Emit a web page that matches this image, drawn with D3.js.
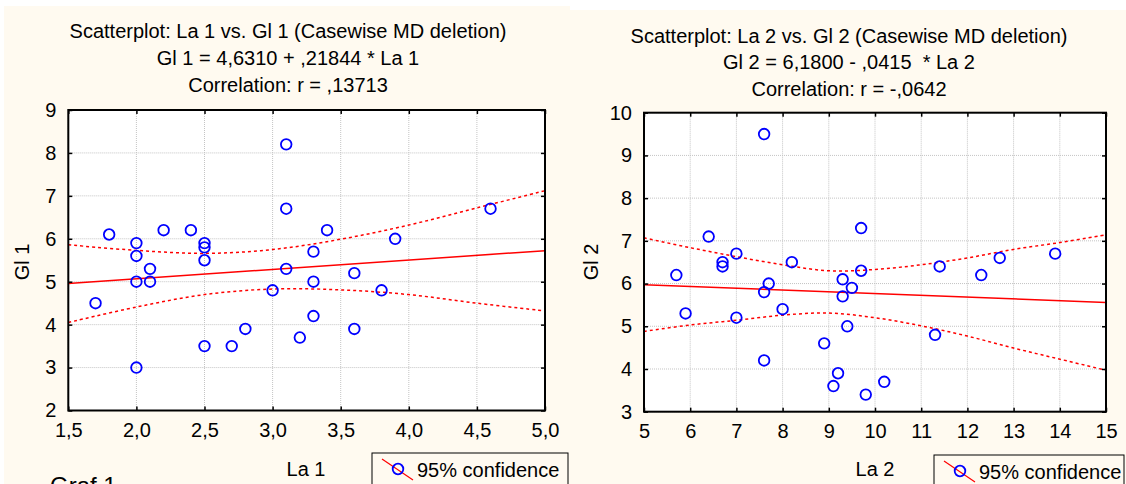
<!DOCTYPE html>
<html>
<head>
<meta charset="utf-8">
<script src="https://cdn.jsdelivr.net/npm/d3@7"></script>
<style>
  html, body { margin: 0; padding: 0; background: #ffffff; }
  svg { display: block; font-family: "Liberation Sans", Arial, sans-serif; }
</style>
</head>
<body>
<svg id="chart" width="1126" height="484"></svg>
<script>
// ---------- Data ----------
const la1 = [1.7, 1.8, 2.0, 2.0, 2.0, 2.1, 2.1, 2.0, 2.2, 2.4, 2.5, 2.5, 2.5, 2.5, 2.7,
             2.8, 3.0, 3.1, 3.1, 3.1, 3.2, 3.3, 3.3, 3.3, 3.4, 3.6, 3.6, 3.8, 3.9, 4.6];
const gl1 = [4.5, 6.1, 5.9, 5.6, 5.0, 5.0, 5.3, 3.0, 6.2, 6.2, 5.9, 5.8, 5.5, 3.5, 3.5,
             3.9, 4.8, 8.2, 6.7, 5.3, 3.7, 5.7, 5.0, 4.2, 6.2, 5.2, 3.9, 4.8, 6.0, 6.7];

const la2 = [5.7, 6.4, 6.7, 6.7, 7.0, 7.6, 7.6, 7.7, 8.2, 9.3, 9.5, 9.3, 9.7, 9.7, 11.4,
             12.3, 12.7, 13.9, 5.9, 7.0, 7.6, 8.0, 8.9, 9.2, 9.1, 9.4, 9.8, 10.2, 11.3];
const gl2 = [6.2, 7.1, 6.5, 6.4, 6.7, 9.5, 5.8, 6.0, 6.5, 6.1, 5.9, 5.7, 7.3, 6.3, 6.4,
             6.2, 6.6, 6.7, 5.3, 5.2, 4.2, 5.4, 4.6, 3.9, 3.6, 5.0, 3.4, 3.7, 4.8];

// regression coefficients printed in the titles
const fitIntercept = [4.6310, 6.1800];
const fitSlope = [0.21844, -0.0415];

// 95% confidence band
const band1X = [1.5, 2.0, 2.5, 3.0, 3.5, 4.0, 4.5, 5.0];
const band1Upper = [5.86, 5.73, 5.66, 5.75, 5.99, 6.32, 6.72, 7.12];
const band1Lower = [4.05, 4.41, 4.70, 4.83, 4.81, 4.70, 4.50, 4.32];

const band2X = [5, 6, 7, 8, 9, 10, 11, 12, 13, 14, 15];
const band2Upper = [7.07, 6.84, 6.63, 6.44, 6.30, 6.33, 6.44, 6.60, 6.80, 6.96, 7.14];
const band2Lower = [4.88, 5.03, 5.14, 5.26, 5.31, 5.20, 5.01, 4.77, 4.49, 4.23, 3.97];

// ticks
const xTicks1 = [1.5, 2.0, 2.5, 3.0, 3.5, 4.0, 4.5, 5.0];
const yTicks1 = [2, 3, 4, 5, 6, 7, 8, 9];
const xTicks2 = [5, 6, 7, 8, 9, 10, 11, 12, 13, 14, 15];
const yTicks2 = [3, 4, 5, 6, 7, 8, 9, 10];

// texts
const titles1 = ["Scatterplot: La 1 vs. Gl 1 (Casewise MD deletion)",
                 "Gl 1 = 4,6310 + ,21844 * La 1",
                 "Correlation: r = ,13713"];
const titles2 = ["Scatterplot: La 2 vs. Gl 2 (Casewise MD deletion)",
                 "Gl 2 = 6,1800 - ,0415  * La 2",
                 "Correlation: r = -,0642"];
const xLabels = ["La 1", "La 2"];
const yLabels = ["Gl 1", "Gl 2"];
const legendText = "95% confidence";

// ---------- Drawing ----------
const svg = d3.select("#chart");
const cream = "#fffaf0";

// panel backgrounds
svg.append("rect").attr("x", 4).attr("y", 6).attr("width", 566).attr("height", 478).attr("fill", cream);
svg.append("rect").attr("x", 570).attr("y", 10).attr("width", 556).attr("height", 474).attr("fill", cream);

const commaFmt = v => d3.format(".1f")(v).replace(".", ",");
const intFmt = v => String(v);

const panels = [
  { x: la1, y: gl1, bx: band1X, bu: band1Upper, bl: band1Lower,
    xd: [1.5, 5.0], yd: [2, 9], xr: [68.3, 545], yr: [410.5, 110],
    xt: xTicks1, yt: yTicks1, xf: commaFmt, yf: intFmt,
    titles: titles1, tcx: 288, tby: [38, 65, 92],
    xl: xLabels[0], xlx: 306, yl: yLabels[0], ylx: 29, yly: 262,
    legX: 372, legY: 453, legW: 196, fitI: fitIntercept[0], fitS: fitSlope[0] },
  { x: la2, y: gl2, bx: band2X, bu: band2Upper, bl: band2Lower,
    xd: [5, 15], yd: [3, 10], xr: [644, 1106], yr: [411.7, 112.7],
    xt: xTicks2, yt: yTicks2, xf: intFmt, yf: intFmt,
    titles: titles2, tcx: 849, tby: [43, 69, 96],
    xl: xLabels[1], xlx: 875, yl: yLabels[1], ylx: 598, yly: 262,
    legX: 934, legY: 455, legW: 190, fitI: fitIntercept[1], fitS: fitSlope[1] }
];

panels.forEach(p => {
  const xs = d3.scaleLinear().domain(p.xd).range(p.xr);
  const ys = d3.scaleLinear().domain(p.yd).range(p.yr);
  const g = svg.append("g");
  const [L, R] = p.xr, [B, T] = p.yr;

  // plot area
  g.append("rect").attr("x", L).attr("y", T).attr("width", R - L).attr("height", B - T).attr("fill", "#ffffff");

  // grid
  g.selectAll(".gx").data(p.xt).join("line")
    .attr("x1", d => xs(d)).attr("x2", d => xs(d)).attr("y1", T).attr("y2", B)
    .attr("stroke", "#c4c4c4").attr("stroke-width", 1).attr("stroke-dasharray", "1,1");
  g.selectAll(".gy").data(p.yt).join("line")
    .attr("x1", L).attr("x2", R).attr("y1", d => ys(d)).attr("y2", d => ys(d))
    .attr("stroke", "#c4c4c4").attr("stroke-width", 1).attr("stroke-dasharray", "1,1");

  const clipId = "clip" + Math.round(L);
  svg.append("clipPath").attr("id", clipId).append("rect")
    .attr("x", L).attr("y", T).attr("width", R - L).attr("height", B - T);
  const pg = g.append("g").attr("clip-path", `url(#${clipId})`);

  // confidence band
  const bandLine = d3.line().x(d => xs(d[0])).y(d => ys(d[1])).curve(d3.curveCatmullRom);
  [p.bu, p.bl].forEach(arr => {
    pg.append("path").datum(p.bx.map((v, i) => [v, arr[i]]))
      .attr("d", bandLine).attr("fill", "none").attr("stroke", "#ff0000")
      .attr("stroke-width", 1.5).attr("stroke-dasharray", "3,3");
  });

  // regression line
  pg.append("line")
    .attr("x1", xs(p.xd[0])).attr("y1", ys(p.fitI + p.fitS * p.xd[0]))
    .attr("x2", xs(p.xd[1])).attr("y2", ys(p.fitI + p.fitS * p.xd[1]))
    .attr("stroke", "#ff0000").attr("stroke-width", 1.5);

  // points
  g.selectAll(".pt").data(p.x.map((v, i) => [v, p.y[i]])).join("circle")
    .attr("cx", d => xs(d[0])).attr("cy", d => ys(d[1])).attr("r", 5.3)
    .attr("fill", "none").attr("stroke", "#0000ff").attr("stroke-width", 1.8);

  // axes (frame with inward ticks)
  const ax = g.append("g");
  ax.append("g").attr("transform", `translate(0,${B})`)
    .call(d3.axisBottom(xs).tickValues(p.xt).tickFormat(p.xf).tickSizeInner(-4).tickSizeOuter(0).tickPadding(12));
  ax.append("g").attr("transform", `translate(0,${T})`)
    .call(d3.axisTop(xs).tickValues(p.xt).tickFormat("").tickSizeInner(-4).tickSizeOuter(0));
  ax.append("g").attr("transform", `translate(${L},0)`)
    .call(d3.axisLeft(ys).tickValues(p.yt).tickFormat(p.yf).tickSizeInner(-4).tickSizeOuter(0).tickPadding(12));
  ax.append("g").attr("transform", `translate(${R},0)`)
    .call(d3.axisRight(ys).tickValues(p.yt).tickFormat("").tickSizeInner(-4).tickSizeOuter(0));
  ax.selectAll(".domain").remove();
  ax.selectAll(".tick line").attr("stroke", "#000").attr("stroke-width", 1.5);
  ax.selectAll(".tick text").attr("font-size", 20).attr("fill", "#000")
    .attr("font-family", '"Liberation Sans", Arial, sans-serif');
  g.append("rect").attr("x", L).attr("y", T).attr("width", R - L).attr("height", B - T)
    .attr("fill", "none").attr("stroke", "#000").attr("stroke-width", 2);

  // titles
  p.titles.forEach((t, i) => {
    g.append("text").attr("x", p.tcx).attr("y", p.tby[i]).attr("text-anchor", "middle")
      .attr("font-size", 20).attr("fill", "#000").style("white-space", "pre").text(t);
  });

  // axis labels
  g.append("text").attr("x", p.xlx).attr("y", 476).attr("text-anchor", "middle")
    .attr("font-size", 20).attr("fill", "#000").text(p.xl);
  g.append("text").attr("transform", `translate(${p.ylx},${p.yly}) rotate(-90)`)
    .attr("text-anchor", "middle").attr("font-size", 20).attr("fill", "#000").text(p.yl);

  // legend
  g.append("rect").attr("x", p.legX).attr("y", p.legY).attr("width", p.legW).attr("height", 45)
    .attr("fill", cream).attr("stroke", "#000").attr("stroke-width", 1);
  g.append("line").attr("x1", p.legX + 10).attr("y1", p.legY + 6)
    .attr("x2", p.legX + 41).attr("y2", p.legY + 27)
    .attr("stroke", "#ff0000").attr("stroke-width", 1.2);
  g.append("circle").attr("cx", p.legX + 26).attr("cy", p.legY + 16).attr("r", 5.3)
    .attr("fill", "none").attr("stroke", "#0000ff").attr("stroke-width", 1.8);
  g.append("text").attr("x", p.legX + 45).attr("y", p.legY + 24)
    .attr("font-size", 20).attr("fill", "#000").text(legendText);
});

// partially visible caption below the first chart (cut by the bottom edge, as in the reference)
svg.append("text").attr("x", 50).attr("y", 494).attr("font-size", 24).attr("fill", "#000").text("Graf 1");
</script>
</body>
</html>
